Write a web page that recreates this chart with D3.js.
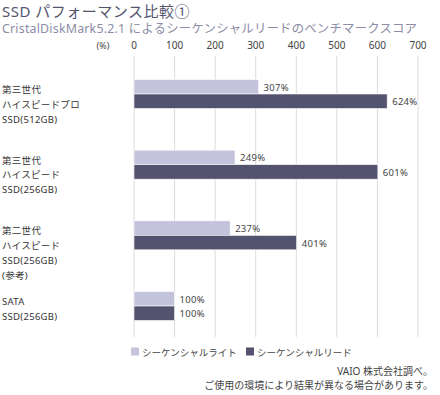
<!DOCTYPE html>
<html>
<head>
<meta charset="utf-8">
<script src="https://cdn.jsdelivr.net/npm/d3@7"></script>
<style>
  body { margin: 0; background: #fff; }
  text { font-family: "Noto Sans", "Noto Sans CJK JP", sans-serif; }
</style>
</head>
<body>
<div id="chart"></div>
<script>
const categories = ['sata3pro', 'sata3', 'sata2', 'sata'];
const categoryLines = [
  ['第三世代', 'ハイスピードプロ', 'SSD(512GB)'],
  ['第三世代', 'ハイスピード', 'SSD(256GB)'],
  ['第二世代', 'ハイスピード', 'SSD(256GB)', '(参考)'],
  ['SATA', 'SSD(256GB)']
];
const writeValues = [307, 249, 237, 100];
const readValues = [624, 601, 401, 100];
const ticks = [0, 100, 200, 300, 400, 500, 600, 700];
const seriesNames = ['シーケンシャルライト', 'シーケンシャルリード'];
const colors = ['#c3c4dc', '#53536f'];

const width = 440;
const height = 395;
const barH = 14.5;

const svg = d3.select('#chart').append('svg').attr('width', width).attr('height', height);

// title
svg.append('text').attr('x', 2).attr('y', 17).text('SSD パフォーマンス比較①')
  .style('font-size', '15px').style('letter-spacing', '0.5px').style('fill', '#55556e');
svg.append('text').attr('x', 2).attr('y', 33).text('CristalDiskMark5.2.1 によるシーケンシャルリードのベンチマークスコア')
  .style('font-size', '12.4px').style('letter-spacing', '0.2px').style('fill', '#8c8ca6');

const x = d3.scaleLinear().domain([0, 700]).range([134, 418]);
const y = d3.scalePoint().domain(categories).range([94, 306]);

// grid
svg.selectAll('.grid').data(ticks).enter().append('line')
  .attr('x1', d => x(d)).attr('x2', d => x(d))
  .attr('y1', 56).attr('y2', 337)
  .style('stroke', '#dcdcdc').style('stroke-width', 1);

svg.selectAll('.tick').data(ticks).enter().append('text')
  .attr('x', d => x(d)).attr('y', 49).attr('text-anchor', 'middle')
  .text(d => d).style('font-size', '10px').style('fill', '#444');
svg.append('text').attr('x', 103).attr('y', 49).attr('text-anchor', 'middle')
  .text('(%)').style('font-size', '9px').style('fill', '#444');

// bars
const series = [writeValues, readValues];
series.forEach((vals, s) => {
  svg.selectAll('.bar' + s).data(vals).enter().append('rect')
    .attr('x', x(0))
    .attr('y', (d, i) => y(categories[i]) - barH + s * barH)
    .attr('width', d => x(d) - x(0))
    .attr('height', barH)
    .style('fill', colors[s]).style('stroke', '#fff').style('stroke-width', 0.6);
  svg.selectAll('.val' + s).data(vals).enter().append('text')
    .attr('x', d => x(d) + 5)
    .attr('y', (d, i) => y(categories[i]) - barH / 2 + s * barH + 4)
    .text(d => d + '%')
    .style('font-size', '9.5px').style('letter-spacing', '0.3px').style('fill', '#444');
});

// category labels
categoryLines.forEach((lines, i) => {
  const t = svg.append('text').attr('x', 2).style('font-size', '9.5px')
    .style('letter-spacing', '0.3px').style('fill', '#333');
  lines.forEach((l, j) => {
    t.append('tspan').attr('x', 2).attr('y', y(categories[i]) - 1 + j * 14.8).text(l);
  });
});

// legend
const legendX = [131, 246];
seriesNames.forEach((n, i) => {
  svg.append('rect').attr('x', legendX[i]).attr('y', 347.5).attr('width', 8).attr('height', 8).style('fill', colors[i]);
  svg.append('text').attr('x', legendX[i] + 11).attr('y', 355.5).text(n)
    .style('font-size', '9.5px').style('fill', '#444');
});

// note
svg.append('text').attr('x', 433).attr('y', 375).attr('text-anchor', 'end')
  .text('VAIO 株式会社調べ。').style('font-size', '10px').style('fill', '#444');
svg.append('text').attr('x', 433).attr('y', 389).attr('text-anchor', 'end')
  .text('ご使用の環境により結果が異なる場合があります。').style('font-size', '10px').style('fill', '#444');
</script>
</body>
</html>
